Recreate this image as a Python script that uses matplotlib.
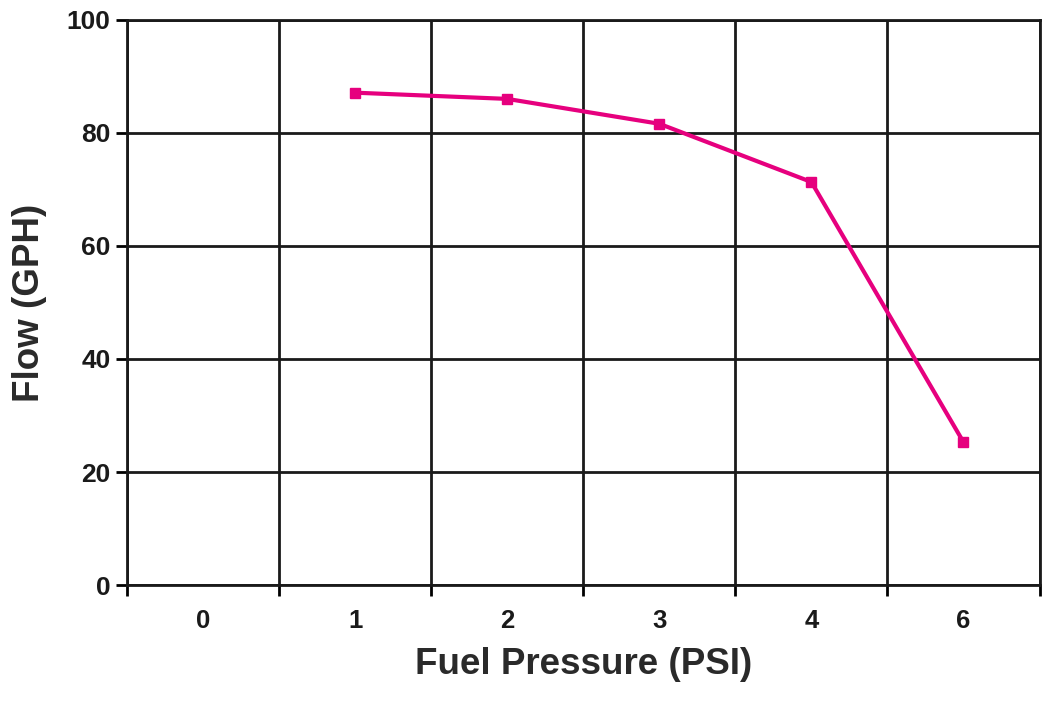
import numpy as np
import matplotlib.pyplot as plt

# data
pressure_labels = ["0", "1", "2", "3", "4", "6"]
flow_gph = [np.nan, 87.1, 86.0, 81.6, 71.3, 25.3]
y_ticks = [0, 20, 40, 60, 80, 100]

plt.rcParams['font.family'] = ['Liberation Sans', 'DejaVu Sans']

fig = plt.figure(figsize=(10.5, 7.05), dpi=100)
ax = fig.add_axes([0.121, 0.170, 0.869, 0.802])

pos = np.arange(len(pressure_labels))
ax.plot(pos, flow_gph, color='#e6007e', linewidth=3, marker='s',
        markersize=7, zorder=3)

ax.set_xlim(-0.5, len(pressure_labels) - 0.5)
ax.set_ylim(0, 100)

# category boundaries carry the grid, centres carry the labels
ax.set_xticks(np.arange(-0.5, len(pressure_labels)), minor=False)
ax.set_xticklabels([])
ax.set_xticks(pos, minor=True)
ax.set_xticklabels(pressure_labels, minor=True, fontsize=18.5, fontweight='bold',
                   color='#1a1a1a')
ax.tick_params(axis='x', which='major', length=8, width=2, direction='out')
ax.tick_params(axis='x', which='minor', length=0, pad=17)

ax.set_yticks(y_ticks)
ax.set_yticklabels([str(v) for v in y_ticks], fontsize=19, fontweight='bold',
                   color='#1a1a1a')
ax.tick_params(axis='y', length=8, width=2, direction='out', pad=4)

ax.grid(True, which='major', color='#1a1a1a', linewidth=2)
for s in ax.spines.values():
    s.set_linewidth(2)
    s.set_color('#1a1a1a')

ax.set_xlabel('Fuel Pressure (PSI)', fontsize=26.5, fontweight='bold',
              labelpad=10, color='#2a2a2a')
ax.set_ylabel('Flow (GPH)', fontsize=26.5, fontweight='bold', labelpad=14,
              color='#2a2a2a')

fig.savefig('out.png', dpi=100)
